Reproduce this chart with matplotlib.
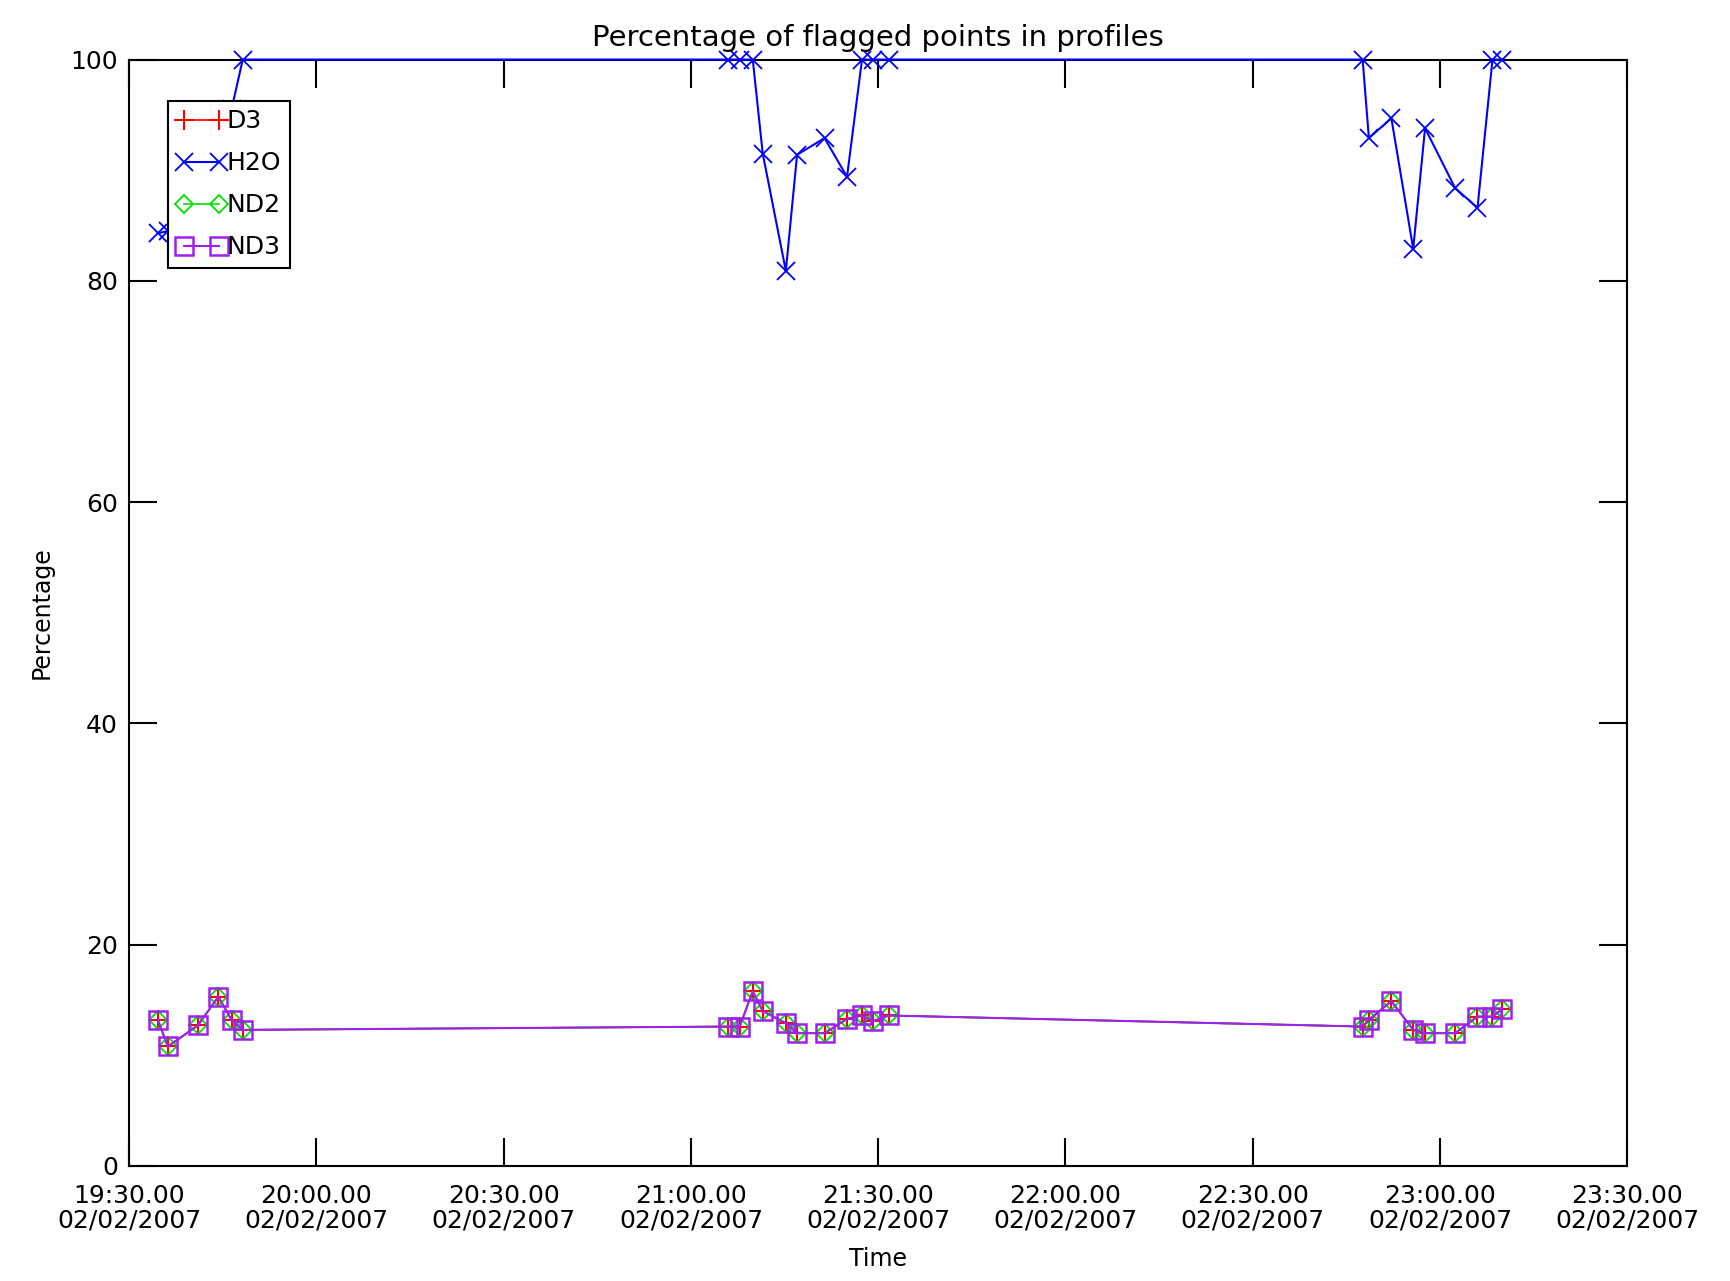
import numpy as np
import pandas as pd
import matplotlib
matplotlib.use("Agg")
import matplotlib.pyplot as plt
import matplotlib.dates as mdates

# profile times (minutes after 19:30 on 02/02/2007)
minutes = [4.6, 6.2, 11.0, 14.3, 16.4, 18.2,
           96.0, 97.8, 99.9, 101.5, 105.2, 107.0, 111.4, 115.0, 117.4, 119.2, 121.7,
           197.6, 198.6, 202.2, 205.7, 207.6, 212.4, 216.0, 218.4, 220.0]

h2o = [84.3, 84.5, 88.0, 92.0, 95.5, 100.0,
       100.0, 100.0, 100.0, 91.5, 80.9, 91.4, 92.9, 89.4, 100.0, 100.0, 100.0,
       100.0, 92.9, 94.7, 82.9, 93.8, 88.4, 86.6, 100.0, 100.0]

low = [13.2, 10.8, 12.7, 15.3, 13.2, 12.3,
       12.6, 12.6, 15.8, 14.0, 12.9, 12.0, 12.0, 13.3, 13.6, 13.1, 13.6,
       12.6, 13.2, 14.9, 12.3, 12.0, 12.0, 13.5, 13.5, 14.2]
o3 = low
no2 = low
no3 = low

t0 = pd.Timestamp("2007-02-02 19:30:00")
times = t0 + pd.to_timedelta(minutes, unit="m")

fig = plt.figure(figsize=(17.31, 12.81), dpi=100)
ax = fig.add_axes([0.0746, 0.0898, 0.8655, 0.8637])

ax.plot(times, o3, color="red", marker="+", ms=14, mew=1.5, lw=1.2, label="D3")
ax.plot(times, h2o, color="blue", marker="x", ms=13, mew=1.3, lw=1.5, label="H2O",
        clip_on=False, zorder=3)
ax.plot(times, no2, color="#00e000", marker="D", ms=9, mfc="none", mew=1.3, lw=1.2, label="ND2")
ax.plot(times, no3, color="#a020f0", marker="s", ms=13, mfc="none", mew=1.8, lw=1.5, label="ND3")

ax.set_xlim(t0, t0 + pd.Timedelta(hours=4))
ax.set_ylim(0, 100)
ax.xaxis.set_major_locator(mdates.MinuteLocator(byminute=[0, 30]))
ax.xaxis.set_major_formatter(mdates.DateFormatter("%H:%M.00\n%m/%d/%Y"))
ax.set_yticks([0, 20, 40, 60, 80, 100])

ax.tick_params(direction="in", length=20, width=1.5, top=True, right=True,
               labelsize=18, pad=8)
ax.tick_params(axis="x", pad=13)
for lab in ax.get_xticklabels():
    lab.set_linespacing(1.05)
for s in ax.spines.values():
    s.set_linewidth(1.5)
    s.set_zorder(2.5)

ax.set_title("Percentage of flagged points in profiles", fontsize=21, pad=10)
ax.set_xlabel("Time", fontsize=17, labelpad=10)
ax.set_ylabel("Percentage", fontsize=17, labelpad=12)

leg = ax.legend(loc="upper left", bbox_to_anchor=(0.026, 0.963), numpoints=2,
                fontsize=18, frameon=True, fancybox=False, edgecolor="black",
                handlelength=2.0, handletextpad=0.0, borderpad=0.35,
                labelspacing=0.72, borderaxespad=0)
leg.get_frame().set_linewidth(1.5)
leg.get_frame().set_alpha(1)

fig.savefig("out.png", dpi=100)
